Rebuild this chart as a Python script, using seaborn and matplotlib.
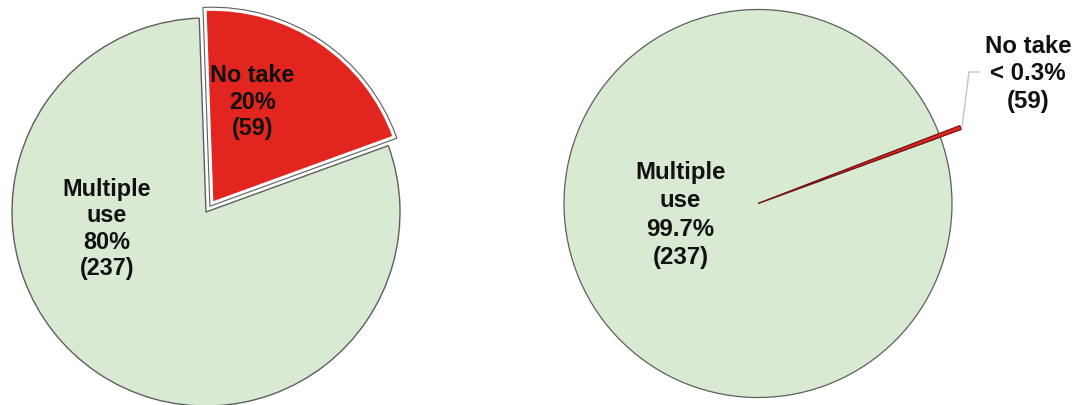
import matplotlib
matplotlib.use("Agg")
import matplotlib.pyplot as plt
import matplotlib.patheffects as pe
import seaborn as sns

# Data
categories = ["No take", "Multiple use"]
counts = [59, 237]
pct_left = [20, 80]
pct_right = [0.3, 99.7]
left_labels = ["No take\n20%\n(59)", "Multiple\nuse\n80%\n(237)"]
right_labels = ["No take\n< 0.3%\n(59)", "Multiple\nuse\n99.7%\n(237)"]

RED = "#e2261f"
GREEN = "#d9ead3"
EDGE = "#5e5e5e"

sns.set_theme(style="white")
plt.rcParams["font.family"] = ["Liberation Sans", "DejaVu Sans"]

W, H = 1081, 405
fig = plt.figure(figsize=(W / 100, H / 100), dpi=100)
ax = fig.add_axes([0, 0, 1, 1])

# Left pie: no-take slice pulled out from the rest (explode is in data units)
c1, r1 = (206, 193), 194
w1, _ = ax.pie(pct_left, colors=[RED, GREEN], startangle=92, counterclock=False,
               explode=[10.5, 0], center=c1, radius=r1,
               wedgeprops=dict(edgecolor=EDGE, linewidth=1.0))
w1[0].set_edgecolor("white")
w1[0].set_linewidth(2.2)
w1[0].set_path_effects([pe.Stroke(linewidth=3.8, foreground=EDGE), pe.Normal()])
w1[0].set_zorder(3)

# Right pie: the tiny no-take sliver extends beyond the rim
c2, r2 = (758, 201.5), 194
w2, _ = ax.pie(pct_right, colors=[RED, GREEN], startangle=21.1, counterclock=False,
               center=c2, radius=r2,
               wedgeprops=dict(edgecolor=EDGE, linewidth=0.9))
w2[0].set_radius(r2 * 1.115)
w2[0].set_edgecolor("#7a1414")
w2[0].set_zorder(3)

ax.set_xlim(0, W)
ax.set_ylim(0, H)
ax.set_aspect("equal")
ax.axis("off")

txt = dict(ha="center", va="center", fontweight="bold", color="#111111")
ax.text(c1[0] + 0.24 * r1, c1[1] + 0.567 * r1, left_labels[0],
        fontsize=16.8, linespacing=1.2, **txt)
ax.text(c1[0] - 0.51 * r1, c1[1] - 0.088 * r1, left_labels[1],
        fontsize=16.8, linespacing=1.2, **txt)
ax.text(c2[0] - 0.40 * r2, c2[1] - 0.06 * r2, right_labels[1],
        fontsize=17.3, linespacing=1.3, **txt)
ax.text(1028, 331, right_labels[0], fontsize=17.3, linespacing=1.25, **txt)

# leader line for the sliver label
ax.plot([962, 969, 980], [278, 333, 333], color="#c4c4c4", linewidth=1.0, zorder=4)

fig.savefig("out.png", dpi=100, facecolor="white")
